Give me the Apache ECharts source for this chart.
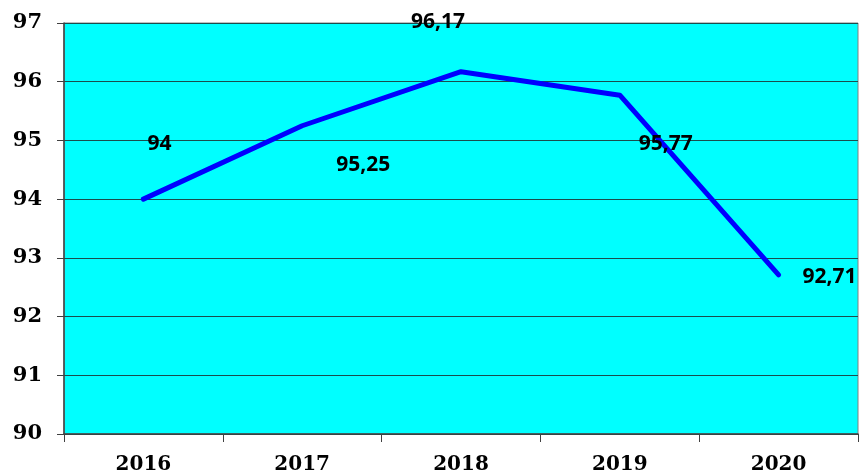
<!DOCTYPE html>
<html><head><meta charset="utf-8">
<script src="https://cdn.jsdelivr.net/npm/echarts@6/dist/echarts.min.js"></script>
<style>html,body{margin:0;padding:0;background:#fff}#c{width:859px;height:476px}</style>
</head><body><div id="c"></div>
<script>
const categories = ['2016','2017','2018','2019','2020'];
const values = [94, 95.25, 96.17, 95.77, 92.71];
const labelTexts = ['94','95,25','96,17','95,77','92,71'];
const labelOffsets = [[16,-55],[61,39],[-23,-50],[46,49],[51,2]];

const chart = echarts.init(document.getElementById('c'));
chart.setOption({
  animation:false,
  grid:{left:64,right:1,top:23,bottom:42,show:true,backgroundColor:'#00FFFF',borderColor:'#808080',borderWidth:1},
  xAxis:{type:'category',data:categories,boundaryGap:true,
    axisLine:{lineStyle:{color:'#404040',width:1.5}},
    axisTick:{show:true,length:8,alignWithLabel:false,lineStyle:{color:'#404040'}},
    axisLabel:{margin:21,fontFamily:'DejaVu Serif',fontWeight:'bold',fontSize:20,color:'#000'},
    splitLine:{show:false}},
  yAxis:{type:'value',min:90,max:97,interval:1,
    axisLine:{show:true,lineStyle:{color:'#404040',width:1.5}},
    axisTick:{show:true,length:7,inside:false,lineStyle:{color:'#404040'}},
    axisLabel:{margin:22,fontFamily:'DejaVu Serif',fontWeight:'bold',fontSize:21,color:'#000'},
    splitLine:{show:true,lineStyle:{color:'#1a4d4d',width:1}}},
  series:[{type:'line',
    data: values.map((v,i)=>({value:v,label:{offset:labelOffsets[i],formatter:labelTexts[i]}})),
    showSymbol:true, symbol:'circle', symbolSize:1,
    itemStyle:{color:'rgba(0,0,255,0)'},
    lineStyle:{color:'#0000FF',width:5,cap:'round',join:'round'},
    label:{show:true,position:'inside',fontFamily:'Open Sans',fontWeight:'bold',fontSize:21,color:'#000'}
  }]
});
</script></body></html>
